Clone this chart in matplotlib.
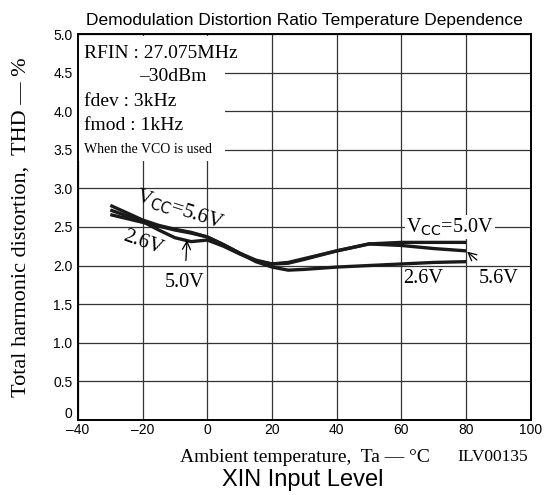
import matplotlib
matplotlib.use("Agg")
import matplotlib.pyplot as plt
from matplotlib.patches import Rectangle
from matplotlib.transforms import ScaledTranslation

# (Ta in degC, THD in %)
temp = [-30, -20, -15, -10, -5, 0, 5, 10, 15, 20, 25, 30, 40, 50, 60, 70, 80]
thd_50 = [2.72, 2.57, 2.46, 2.36, 2.31, 2.33, 2.25, 2.15, 2.06, 2.02, 2.03, 2.08, 2.19, 2.28, 2.30, 2.30, 2.30]
thd_56 = [2.78, 2.59, 2.52, 2.47, 2.43, 2.37, 2.27, 2.16, 2.07, 2.02, 2.04, 2.09, 2.19, 2.28, 2.26, 2.22, 2.19]
thd_26 = [2.66, 2.56, 2.51, 2.46, 2.42, 2.37, 2.27, 2.16, 2.05, 1.98, 1.94, 1.95, 1.98, 2.00, 2.02, 2.04, 2.05]

x_ticks = [-40, -20, 0, 20, 40, 60, 80, 100]
y_ticks = [0, 0.5, 1.0, 1.5, 2.0, 2.5, 3.0, 3.5, 4.0, 4.5, 5.0]
y_tick_labels = ["0", "0.5", "1.0", "1.5", "2.0", "2.5", "3.0", "3.5", "4.0", "4.5", "5.0"]

serif = "Liberation Serif"
sans = "Liberation Sans"

fig = plt.figure(figsize=(5.57, 4.95), dpi=100)
ax = fig.add_axes([0.140, 0.152, 0.813, 0.779])

ax.set_xlim(-40, 100)
ax.set_ylim(0, 5.0)
ax.set_xticks(x_ticks)
ax.set_xticklabels(["\u2013" + str(-t) if t < 0 else str(t) for t in x_ticks],
                   fontfamily=sans, fontsize=10)
ax.set_yticks(y_ticks)
ax.set_yticklabels(y_tick_labels, fontfamily=sans, fontsize=10)
ax.tick_params(axis="x", length=0, pad=2)
ax.tick_params(axis="y", length=0, pad=4)
# the "0" sits a little higher than the axis line, as in the original
zero_lbl = ax.get_yticklabels()[0]
zero_lbl.set_transform(zero_lbl.get_transform() + ScaledTranslation(0, 5 / 72, fig.dpi_scale_trans))
ax.grid(True, color="#333333", linewidth=0.9)
for s in ax.spines.values():
    s.set_linewidth(1.4)

for y in (thd_50, thd_56, thd_26):
    ax.plot(temp, y, color="#1a1a1a", linewidth=2.4, solid_capstyle="butt", zorder=3)

# white box holding the test conditions
ax.add_patch(Rectangle((-40, 3.36), 45.5, 1.61, facecolor="white", edgecolor="none", zorder=2))
ax.text(-38, 4.75, "RFIN : 27.075MHz", fontfamily=serif, fontsize=14, va="center", zorder=4)
ax.text(-21, 4.45, "\u201330dBm", fontfamily=serif, fontsize=14, va="center", zorder=4)
ax.text(-38, 4.13, "fdev : 3kHz", fontfamily=serif, fontsize=14, va="center", zorder=4)
ax.text(-38, 3.82, "fmod : 1kHz", fontfamily=serif, fontsize=14, va="center", zorder=4)
ax.text(-38, 3.51, "When the VCO is used", fontfamily=serif, fontsize=10, va="center", zorder=4)

# curve labels
ax.text(-8.5, 2.72, r"V$_{\rm CC}$=5.6V", fontfamily=serif, fontsize=15, rotation=-18,
        ha="center", va="center", zorder=4)
ax.text(-20, 2.29, "2.6V", fontfamily=serif, fontsize=15, rotation=-20,
        ha="center", va="center", zorder=4)
ax.annotate("5.0V", xy=(-6.3, 2.33), xytext=(-7, 1.78), fontfamily=serif, fontsize=14.5,
            ha="center", va="center",
            arrowprops=dict(arrowstyle="->", color="black", lw=0.9, shrinkA=7, shrinkB=0))
ax.text(75, 2.5, r"V$_{\rm CC}$=5.0V", fontfamily=serif, fontsize=14.5, ha="center", va="center",
        bbox=dict(facecolor="white", edgecolor="none", pad=1), zorder=4)
ax.text(60.5, 1.83, "2.6V", fontfamily=serif, fontsize=14.5, ha="left", va="center", zorder=4)
ax.annotate("5.6V", xy=(80.3, 2.18), xytext=(90, 1.83), fontfamily=serif, fontsize=14.5,
            ha="center", va="center",
            arrowprops=dict(arrowstyle="->", color="black", lw=0.9, shrinkA=7, shrinkB=0))

ax.set_title("Demodulation Distortion Ratio Temperature Dependence", fontfamily=sans,
             fontsize=12.5, pad=6.5)
ax.set_ylabel("Total harmonic distortion,  THD \u2014 %", fontfamily=serif, fontsize=16, labelpad=16)
fig.text(0.547, 0.076, "Ambient temperature,  Ta \u2014 \u00b0C", fontfamily=serif, fontsize=14,
         ha="center", va="center")
fig.text(0.885, 0.076, "ILV00135", fontfamily=serif, fontsize=12.5, ha="center", va="center")
fig.text(0.544, 0.030, "XIN Input Level", fontfamily=sans, fontsize=17, ha="center", va="center")

fig.savefig("out.png", dpi=100)
